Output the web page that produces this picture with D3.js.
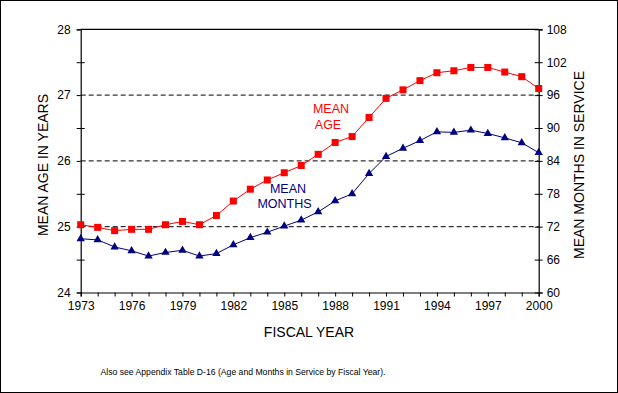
<!DOCTYPE html>
<html><head><meta charset="utf-8">
<script src="https://cdn.jsdelivr.net/npm/d3@7"></script>
<style>
html,body{margin:0;padding:0;background:#fff;}
svg{display:block;font-family:"Liberation Sans",Arial,sans-serif;}
</style></head>
<body>
<svg id="chart" width="618" height="393"></svg>
<script>
const years = d3.range(1973, 2001);
const meanAge = [25.03,24.99,24.94,24.96,24.96,25.03,25.08,25.03,25.17,25.39,25.57,25.71,25.82,25.93,26.10,26.28,26.37,26.66,26.95,27.08,27.22,27.34,27.37,27.42,27.42,27.35,27.28,27.10];
const meanMonths = [69.8,69.6,68.3,67.6,66.65,67.3,67.7,66.65,67.1,68.7,70.0,71.0,72.1,73.2,74.7,76.7,78.0,81.7,84.8,86.3,87.7,89.3,89.2,89.6,89.0,88.2,87.3,85.5];
const leftTicks = [24,25,26,27,28];
const rightTicks = [60,66,72,78,84,90,96,102,108];
const xTickYears = [1973,1976,1979,1982,1985,1988,1991,1994,1997,2000];
const gridAges = [25,26,27];

const svg = d3.select("#chart");
const W = 618, H = 393;
const L = 80.7, R = 538.7, T = 29.3, B = 292.5;

svg.append("rect").attr("x",0.5).attr("y",0.5).attr("width",W-1).attr("height",H-1)
  .attr("fill","#fff").attr("stroke","#000").attr("stroke-width",1);

const x = d3.scaleLinear().domain([1973,2000]).range([L,R]);
const yL = d3.scaleLinear().domain([24,28]).range([B,T]);
const yR = d3.scaleLinear().domain([60,108]).range([B,T]);

// gridlines
svg.append("g").selectAll("line").data(gridAges).join("line")
  .attr("x1",L).attr("x2",R).attr("y1",d=>yL(d)).attr("y2",d=>yL(d))
  .attr("stroke","#000").attr("stroke-width",1).attr("stroke-dasharray","5,3");

// top frame
svg.append("line").attr("x1",L).attr("x2",R).attr("y1",T).attr("y2",T).attr("stroke","#000").attr("stroke-width",1.2);

// axes
const fontSize = "12px";
const gx = svg.append("g").attr("transform",`translate(0,${B})`)
  .call(d3.axisBottom(x).tickValues(years).tickSize(4).tickFormat(d=> xTickYears.includes(d)? String(d):""));
const gl = svg.append("g").attr("transform",`translate(${L},0)`)
  .call(d3.axisLeft(yL).tickValues(d3.range(24,28.01,0.5)).tickSize(4).tickFormat(d=> leftTicks.includes(d)? String(d):""));
const gr = svg.append("g").attr("transform",`translate(${R},0)`)
  .call(d3.axisRight(yR).tickValues(rightTicks).tickSize(4).tickFormat(d=>String(d)));
[gx,gl,gr].forEach(g=>{
  g.select(".domain").attr("stroke","#000").attr("stroke-width",1.2);
  g.selectAll(".tick line").attr("stroke","#000");
  g.selectAll("text").attr("font-size",fontSize).attr("fill","#000")
   .attr("font-family",'"Liberation Sans",Arial,sans-serif');
});
gx.selectAll("text").attr("dy","0.9em");
gl.selectAll("text").attr("x",-10);
gr.selectAll("text").attr("x",8);
// crossing ticks on left (minor) and right
gl.selectAll(".tick line").attr("x1",d=> Number.isInteger(d)?0:4).attr("x2",-4);
gr.selectAll(".tick line").attr("x1",-4).attr("x2",4);

// lines
const lineAge = d3.line().x((d,i)=>x(years[i])).y(d=>yL(d));
const lineMon = d3.line().x((d,i)=>x(years[i])).y(d=>yR(d));
svg.append("path").attr("d",lineMon(meanMonths)).attr("fill","none").attr("stroke","#000080").attr("stroke-width",1);
svg.append("path").attr("d",lineAge(meanAge)).attr("fill","none").attr("stroke","#ff0000").attr("stroke-width",1);

// markers
svg.append("g").selectAll("path").data(meanMonths).join("path")
  .attr("d",d3.symbol().type(d3.symbolTriangle).size(30))
  .attr("transform",(d,i)=>`translate(${x(years[i])},${yR(d)})`)
  .attr("fill","#000080");
svg.append("g").selectAll("rect").data(meanAge).join("rect")
  .attr("x",(d,i)=>x(years[i])-3.5).attr("y",d=>yL(d)-3.5)
  .attr("width",7).attr("height",7).attr("fill","#ff0000");

// annotations
const ann = svg.append("g").attr("font-size","12.5px").attr("text-anchor","middle");
ann.append("text").attr("x",331).attr("y",113).attr("fill","#ff0000").text("MEAN");
ann.append("text").attr("x",328).attr("y",129).attr("fill","#ff0000").text("AGE");
ann.append("text").attr("x",288).attr("y",192.5).attr("fill","#000080").text("MEAN");
ann.append("text").attr("x",284.5).attr("y",208).attr("fill","#000080").text("MONTHS");

// axis titles
svg.append("text").attr("x",309).attr("y",337).attr("text-anchor","middle")
  .attr("font-size","14px").text("FISCAL YEAR");
svg.append("text").attr("transform","translate(48,165) rotate(-90)").attr("text-anchor","middle")
  .attr("font-size","14px").text("MEAN AGE IN YEARS");
svg.append("text").attr("transform","translate(583.5,165) rotate(-90)").attr("text-anchor","middle")
  .attr("font-size","14px").text("MEAN MONTHS IN SERVICE");

// footnote
svg.append("text").attr("x",100.5).attr("y",375).attr("font-size","9px")
  .attr("textLength",285).attr("lengthAdjust","spacingAndGlyphs")
  .text("Also see Appendix Table D-16 (Age and Months in Service by Fiscal Year).");
</script>
</body></html>
